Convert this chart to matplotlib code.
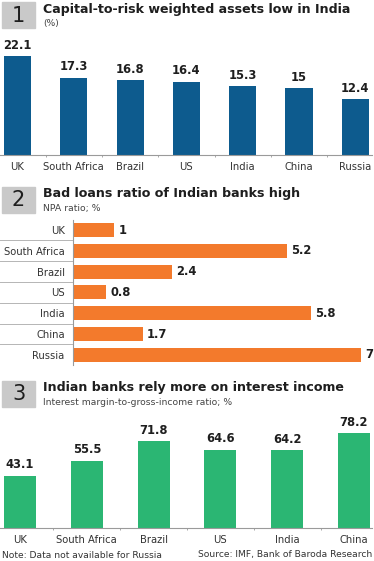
import matplotlib
matplotlib.use("Agg")
import matplotlib.pyplot as plt
from matplotlib.lines import Line2D
from matplotlib.patches import Rectangle

W, H = 374, 561
DPI = 100

# ---- data ----
car_countries = ["UK", "South Africa", "Brazil", "US", "India", "China", "Russia"]
car_values = [22.1, 17.3, 16.8, 16.4, 15.3, 15, 12.4]
car_labels = ["22.1", "17.3", "16.8", "16.4", "15.3", "15", "12.4"]

npa_countries = ["UK", "South Africa", "Brazil", "US", "India", "China", "Russia"]
npa_values = [1, 5.2, 2.4, 0.8, 5.8, 1.7, 7]
npa_labels = ["1", "5.2", "2.4", "0.8", "5.8", "1.7", "7"]

nim_countries = ["UK", "South Africa", "Brazil", "US", "India", "China"]
nim_values = [43.1, 55.5, 71.8, 64.6, 64.2, 78.2]
nim_labels = ["43.1", "55.5", "71.8", "64.6", "64.2", "78.2"]

titles = ["Capital-to-risk weighted assets low in India",
          "Bad loans ratio of Indian banks high",
          "Indian banks rely more on interest income"]
subtitles = ["(%)", "NPA ratio; %", "Interest margin-to-gross-income ratio; %"]
note = "Note: Data not available for Russia"
source = "Source: IMF, Bank of Baroda Research"

BLUE = "#0d5b8e"
ORANGE = "#f37a2c"
GREEN = "#2bb673"
BOXGRAY = "#c9c9c9"
TXT = "#1e1e1e"
TICK = "#333333"
AXGRAY = "#9a9a9a"

fig = plt.figure(figsize=(W / DPI, H / DPI), dpi=DPI)
fig.patch.set_facecolor("white")


def px_axes(x0, y0, x1, y1):
    return fig.add_axes([x0 / W, 1 - y1 / H, (x1 - x0) / W, (y1 - y0) / H])


def fx(x):
    return x / W


def fy(y):
    return 1 - y / H


def header(num, y_top, title, subtitle):
    fig.patches.append(Rectangle((fx(2), fy(y_top + 26)), fx(33), 26 / H,
                                 transform=fig.transFigure, color=BOXGRAY, zorder=0))
    fig.text(fx(18.5), fy(y_top + 13.5), num, ha="center", va="center",
             fontsize=15, color=TXT, fontweight="normal", family="DejaVu Sans")
    fig.text(fx(43), fy(y_top + 7), title, ha="left", va="center",
             fontsize=9.1, color=TXT, fontweight="bold")
    fig.text(fx(43), fy(y_top + 21.5), subtitle, ha="left", va="center",
             fontsize=6.7, color="#444444")


def style_vertical(ax, n):
    for s in ["top", "right", "left"]:
        ax.spines[s].set_visible(False)
    ax.spines["bottom"].set_color(AXGRAY)
    ax.spines["bottom"].set_linewidth(0.8)
    ax.set_yticks([])
    ax.tick_params(axis="x", length=0, labelsize=7.2, labelcolor=TICK, pad=5)
    ax.set_xticks([i + 0.5 for i in range(n - 1)], minor=True)
    ax.tick_params(axis="x", which="minor", length=1.5, color=AXGRAY, width=0.6)
    ax.set_facecolor("none")


# ---- panel 1 ----
header("1", 2, titles[0], subtitles[0])
ax1 = px_axes(0, 30, 372, 155)
x1 = list(range(len(car_countries)))
ax1.bar(x1, car_values, width=0.48, color=BLUE)
ax1.set_xlim(-17.5 / 56.3, (372 - 17.5) / 56.3)
ax1.set_ylim(0, max(car_values) * 125 / 99)
ax1.set_xticks(x1)
ax1.set_xticklabels(car_countries)
style_vertical(ax1, len(car_countries))
for xi, v, lab in zip(x1, car_values, car_labels):
    ax1.annotate(lab, (xi, v), xytext=(0, 3), textcoords="offset points",
                 ha="center", va="bottom", fontsize=8.3, fontweight="bold", color=TXT)

# ---- panel 2 ----
header("2", 187, titles[1], subtitles[1])
ax2 = px_axes(73, 219.6, 372, 365.2)
y2 = list(range(len(npa_countries)))
ax2.barh(y2, npa_values, height=0.67, color=ORANGE)
ax2.set_xlim(0, (372 - 73) / 41.1)
ax2.set_ylim(len(npa_countries) - 0.5, -0.5)
ax2.set_yticks(y2)
ax2.set_yticklabels(npa_countries)
ax2.tick_params(axis="y", length=0, labelsize=7.2, labelcolor=TICK, pad=6)
ax2.set_xticks([])
for s in ["top", "right", "bottom"]:
    ax2.spines[s].set_visible(False)
ax2.spines["left"].set_color(AXGRAY)
ax2.spines["left"].set_linewidth(0.8)
ax2.set_facecolor("none")
for yi, v, lab in zip(y2, npa_values, npa_labels):
    ax2.annotate(lab, (v, yi), xytext=(3, 0), textcoords="offset points",
                 ha="left", va="center", fontsize=8.3, fontweight="bold", color=TXT)
row_h = (365.2 - 219.6) / len(npa_countries)
for k in range(1, len(npa_countries)):
    yy = 219.6 + k * row_h
    fig.lines.append(Line2D([fx(0), fx(72)], [fy(yy), fy(yy)], transform=fig.transFigure,
                            color="#b5b5b5", linewidth=0.7))

# ---- panel 3 ----
header("3", 381, titles[2], subtitles[2])
ax3 = px_axes(0, 418, 372, 528)
x3 = list(range(len(nim_countries)))
ax3.bar(x3, nim_values, width=0.48, color=GREEN)
ax3.set_xlim(-20 / 66.8, (372 - 20) / 66.8)
ax3.set_ylim(0, max(nim_values) * 110 / 95)
ax3.set_xticks(x3)
ax3.set_xticklabels(nim_countries)
style_vertical(ax3, len(nim_countries))
for xi, v, lab in zip(x3, nim_values, nim_labels):
    ax3.annotate(lab, (xi, v), xytext=(0, 3), textcoords="offset points",
                 ha="center", va="bottom", fontsize=8.3, fontweight="bold", color=TXT)

fig.text(fx(2), fy(555), note, ha="left", va="center", fontsize=6.6, color=TICK)
fig.text(fx(372), fy(555), source, ha="right", va="center", fontsize=6.6, color=TICK)

fig.savefig("out.png", dpi=DPI, facecolor="white")
